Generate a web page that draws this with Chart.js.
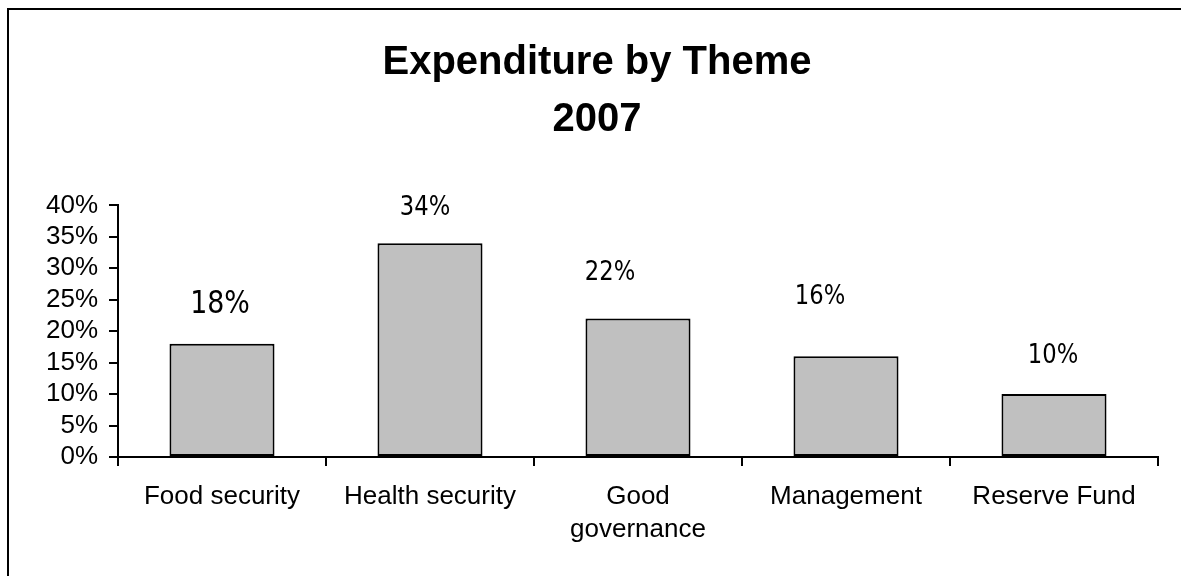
<!DOCTYPE html>
<html>
<head>
<meta charset="utf-8">
<script src="https://cdn.jsdelivr.net/npm/chart.js@4/dist/chart.umd.min.js"></script>
<style>
  html, body { margin: 0; padding: 0; background: #fff; overflow: hidden; }
  #wrap { position: relative; width: 1181px; height: 576px; }
</style>
</head>
<body>
<div id="wrap"><canvas id="c"></canvas></div>
<script>
// ---- data ----
const categories = ['Food security', 'Health security', ['Good', 'governance'], 'Management', 'Reserve Fund'];
const expenditureShare = [18, 34, 22, 16, 10];
const valueLabels = ['18%', '34%', '22%', '16%', '10%'];
const yTickValues = [0, 5, 10, 15, 20, 25, 30, 35, 40];
const titleLines = ['Expenditure by Theme', '2007'];

// ---- label placement styling (pixel offsets from bar top-center, font sizes) ----
const labelStyle = {
  dx: [-2, -5, -28, -26, -1],
  dy: [-39, -35, -46, -59, -38],
  size: [32, 27, 27, 27, 27],
  squeeze: 0.84
};

const framePlugin = {
  id: 'frame',
  beforeDraw(chart) {
    const ctx = chart.ctx;
    ctx.save();
    ctx.fillStyle = '#fff';
    ctx.fillRect(0, 0, chart.width, chart.height);
    ctx.strokeStyle = '#000';
    ctx.lineWidth = 2;
    ctx.strokeRect(8, 9, 3000, 3000);
    ctx.restore();
  }
};

const valueLabelPlugin = {
  id: 'valueLabels',
  afterDatasetsDraw(chart) {
    const ctx = chart.ctx;
    const meta = chart.getDatasetMeta(0);
    meta.data.forEach((bar, i) => {
      ctx.save();
      ctx.fillStyle = '#000';
      ctx.textAlign = 'center';
      ctx.textBaseline = 'middle';
      ctx.font = labelStyle.size[i] + 'px "DejaVu Sans", "Liberation Sans", sans-serif';
      ctx.translate(bar.x + labelStyle.dx[i], bar.y + labelStyle.dy[i]);
      ctx.scale(labelStyle.squeeze, 1);
      ctx.fillText(valueLabels[i], 0, 0);
      ctx.restore();
    });
  }
};

new Chart(document.getElementById('c'), {
  type: 'bar',
  data: {
    labels: categories,
    datasets: [{
      data: expenditureShare,
      backgroundColor: '#C0C0C0',
      borderColor: '#000',
      borderWidth: 2,
      borderSkipped: false,
      barPercentage: 0.505,
      categoryPercentage: 1.0
    }]
  },
  options: {
    responsive: true,
    maintainAspectRatio: false,
    animation: false,
    layout: { padding: { left: 36, right: 23, top: 0, bottom: 0 } },
    plugins: {
      legend: { display: false },
      tooltip: { enabled: false },
      title: {
        display: true,
        text: titleLines,
        color: '#000',
        font: { family: '"Liberation Sans", Arial, sans-serif', size: 40, weight: 'bold', lineHeight: 1.43 },
        padding: { top: 34, bottom: 57 }
      }
    },
    scales: {
      x: {
        offset: true,
        grid: { display: true, offset: true, drawOnChartArea: false, drawTicks: true, tickLength: 9, color: '#000', lineWidth: 2 },
        border: { display: true, color: '#000', width: 2 },
        ticks: {
          color: '#000',
          padding: 15,
          maxRotation: 0,
          autoSkip: false,
          font: { family: '"Liberation Sans", Arial, sans-serif', size: 26, lineHeight: 1.25 }
        },
        afterFit(scale) { scale.height = 119; }
      },
      y: {
        min: 0,
        max: 40,
        afterBuildTicks(scale) { scale.ticks = yTickValues.map(v => ({ value: v })); },
        grid: { display: true, drawOnChartArea: false, drawTicks: true, tickLength: 9, color: '#000', lineWidth: 2 },
        border: { display: true, color: '#000', width: 2 },
        ticks: {
          color: '#000',
          padding: 11,
          autoSkip: false,
          font: { family: '"Liberation Sans", Arial, sans-serif', size: 26 },
          callback: v => v + '%'
        },
        afterFit(scale) { scale.width = 82; }
      }
    }
  },
  plugins: [framePlugin, valueLabelPlugin]
});
</script>
</body>
</html>
